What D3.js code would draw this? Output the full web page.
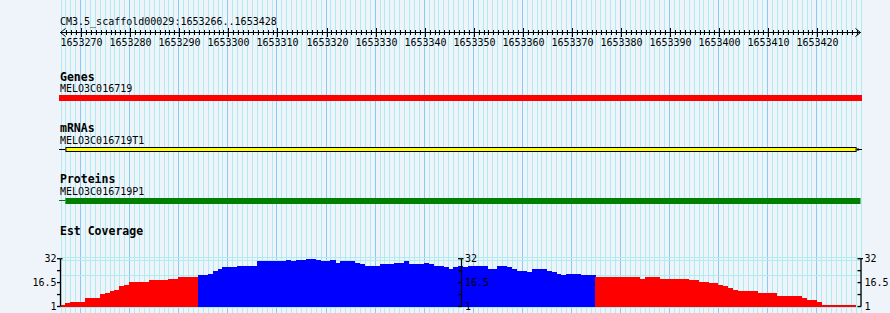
<!DOCTYPE html>
<html><head><meta charset="utf-8">
<script src="https://cdn.jsdelivr.net/npm/d3@7"></script>
<style>
html,body{margin:0;padding:0;background:#eff4fa;}
svg{display:block;}
text{font-family:"DejaVu Sans Mono",monospace;fill:#000;}
</style></head>
<body>
<svg id="c" width="890" height="313"></svg>
<script>
// ---------- data ----------
const refName = "CM3.5_scaffold00029";
const viewStart = 1653266;
const viewEnd = 1653428;            // inclusive
const rulerTickLabels = [1653270,1653280,1653290,1653300,1653310,1653320,1653330,1653340,1653350,1653360,1653370,1653380,1653390,1653400,1653410,1653420];

const trackTitles = ["Genes", "mRNAs", "Proteins", "Est Coverage"];
const geneName = "MELO3C016719";
const geneSpan = [1653100, 1653600];
const mrnaName = "MELO3C016719T1";
const mrnaUtr5 = [1653100, 1653267];
const mrnaCds = [1653267, 1653428];
const mrnaUtr3 = [1653428, 1653600];
const proteinName = "MELO3C016719P1";
const proteinThin = [1653100, 1653267];
const proteinThick = [1653267, 1653600];

// EST coverage, one value per base starting at viewStart
const coverage = [2,3,4,4,4,6.7,6.7,6.7,9,10,10.8,11.7,14.2,15,17,17,17,17,18,18,18,18,18.8,18.8,20.3,20.3,20.3,20.3,
21.5,21.5,22.2,23.7,25.2,26.7,26.7,26.7,27.4,27.4,27.4,27.4,30.6,30.6,30.6,30.6,30.6,30.6,31.2,30.6,31.2,31.2,
32,32,31.2,30.4,30.4,31,29.1,30.4,30.4,30.4,29.1,28.5,27.2,27.2,27.2,28.5,28.5,28.5,29.1,29.1,30.4,28.5,28.5,28.5,
29.1,28.5,27.2,27.2,26.6,25.4,26.7,27.2,26.7,27.2,27.2,27.2,27.2,25.4,25.4,27.2,27.2,26.3,25.4,23.9,23.9,23.2,
25.4,25.4,25.4,24.3,23.2,22.0,21.5,22,22,22,21.3,21.3,21.3,
20.3,20.3,20.3,20.3,20.3,20.3,20.3,20.3,20.3,18.8,20.3,20.3,20.3,18.8,18.8,18.8,18.8,18.8,18.8,18.1,18.1,16.8,16.8,
16.2,16.2,15.1,14.4,12.9,11.7,11,11,11,11,9.7,9.7,9.7,9.7,7.8,7.8,7.8,7.8,7.8,6.3,5.2,5.2,3.9,2,2,2,2,2,2,2,1];
const coverageMin = 1, coverageMax = 32;
const coverageTicks = [1, 8.75, 16.5, 24.25, 32];
const coverageTickLabels = ["1", "", "16.5", "", "32"];
const coveragePivot = 21;
const coverageGuides = [32.8, 31.2, 21.2, 0.6];

// ---------- drawing ----------
const svg = d3.select("#c");
const W = 890, H = 313;
const x = d3.scaleLinear().domain([viewStart, viewEnd + 1]).range([60.5, 860.5]);
const y = d3.scaleLinear().domain([coverageMin, coverageMax]).range([306.5, 258.7]);
const clampX = v => Math.max(viewStart, Math.min(viewEnd + 1, v));

svg.append("rect").attr("width", W).attr("height", H).attr("fill", "#eff4fa");

// vertical grid
const bases = d3.range(viewStart, viewEnd + 2);
svg.append("g").selectAll("line").data(bases).join("line")
  .attr("x1", d => Math.round(x(d)) + 0.5).attr("x2", d => Math.round(x(d)) + 0.5)
  .attr("y1", 0).attr("y2", H)
  .attr("stroke", d => d % 10 === 0 ? "#87cbf3" : "#aeecf0").attr("stroke-width", 1);

// coverage guides
svg.append("g").selectAll("line").data(coverageGuides).join("line")
  .attr("x1", x(viewStart)).attr("x2", x(viewEnd + 1))
  .attr("y1", d => Math.round(y(d)) + 0.5).attr("y2", d => Math.round(y(d)) + 0.5)
  .attr("stroke", "#aeecf0");

// ruler
svg.append("text").attr("x", 60).attr("y", 24.5).attr("font-size", 10).text(`${refName}:${viewStart}..${viewEnd}`);
const ry = 32.5;
const ruler = svg.append("g").attr("stroke", "#000").attr("stroke-width", 1);
ruler.append("line").attr("x1", x(viewStart)).attr("x2", x(viewEnd + 1)).attr("y1", ry).attr("y2", ry);
const rticks = d3.range(viewStart + 1, viewEnd + 1);
ruler.selectAll("line.t").data(rticks).join("line").attr("class", "t")
  .attr("x1", d => Math.round(x(d)) + 1.5).attr("x2", d => Math.round(x(d)) + 1.5)
  .attr("y1", d => d % 10 === 0 ? ry - 4.5 : ry - 2.5)
  .attr("y2", d => d % 10 === 0 ? ry + 4.5 : ry + 2.5);
ruler.append("path").attr("fill", "none")
  .attr("d", `M${x(viewStart) + 5},${ry - 4}L${x(viewStart)},${ry}L${x(viewStart) + 5},${ry + 4}`);
ruler.append("path").attr("fill", "none")
  .attr("d", `M${x(viewEnd + 1) - 5},${ry - 4}L${x(viewEnd + 1)},${ry}L${x(viewEnd + 1) - 5},${ry + 4}`);
svg.append("g").selectAll("text").data(rulerTickLabels).join("text")
  .attr("x", d => Math.round(x(d)) + 1.5).attr("y", 45.8).attr("font-size", 10)
  .attr("text-anchor", "middle").text(d => d);

// track titles
const titleY = [80.5, 131.5, 182.5, 235];
svg.append("g").selectAll("text").data(trackTitles).join("text")
  .attr("x", 60).attr("y", (d, i) => titleY[i]).attr("font-size", 11.5).attr("font-weight", "bold").text(d => d);

const fx = v => x(clampX(v));
// genes
svg.append("text").attr("x", 60).attr("y", 92).attr("font-size", 10).text(geneName);
svg.append("rect").attr("x", fx(geneSpan[0]) - 1.5).attr("y", 95)
  .attr("width", fx(geneSpan[1]) - fx(geneSpan[0]) + 3).attr("height", 6).attr("fill", "#ff0000");

// mRNAs
svg.append("text").attr("x", 60).attr("y", 144).attr("font-size", 10).text(mrnaName);
svg.append("line").attr("x1", fx(mrnaUtr5[0]) - 1.5).attr("x2", fx(mrnaUtr5[1])).attr("y1", 149.5).attr("y2", 149.5).attr("stroke", "#000");
svg.append("rect").attr("x", fx(mrnaCds[0]) + 0.5).attr("y", 147.5)
  .attr("width", fx(mrnaCds[1]) - fx(mrnaCds[0])).attr("height", 4).attr("fill", "#ffff00").attr("stroke", "#000");
svg.append("rect").attr("x", fx(mrnaUtr3[0]) + 1).attr("y", 148.5).attr("width", 2.5).attr("height", 2).attr("fill", "#000");
svg.append("line").attr("x1", fx(mrnaUtr3[0]) + 3).attr("x2", fx(mrnaUtr3[1]) + 1.5).attr("y1", 149.5).attr("y2", 149.5).attr("stroke", "#000");

// proteins
svg.append("text").attr("x", 60).attr("y", 195).attr("font-size", 10).text(proteinName);
svg.append("line").attr("x1", fx(proteinThin[0]) - 1.5).attr("x2", fx(proteinThin[1])).attr("y1", 200.5).attr("y2", 200.5).attr("stroke", "#008000");
svg.append("rect").attr("x", fx(proteinThick[0])).attr("y", 198)
  .attr("width", fx(proteinThick[1]) - fx(proteinThick[0])).attr("height", 6).attr("fill", "#008000");

// coverage bars
svg.append("g").selectAll("rect").data(coverage).join("rect")
  .attr("x", (d, i) => x(viewStart + i))
  .attr("width", (d, i) => x(viewStart + i + 1) - x(viewStart + i) + 0.3)
  .attr("y", d => y(d)).attr("height", d => y(coverageMin) - y(d))
  .attr("fill", d => d > coveragePivot ? "#0000ff" : "#ff0000")
  .attr("shape-rendering", "crispEdges");

// coverage axes
function yAxis(ax, labelSide) {
  const g = svg.append("g");
  g.append("line").attr("x1", ax).attr("x2", ax).attr("y1", y(coverageMax)).attr("y2", y(coverageMin)).attr("stroke", "#000").attr("stroke-width", 1.3);
  g.selectAll("line.t").data(coverageTicks).join("line").attr("class", "t")
    .attr("x1", ax - 3.5).attr("x2", ax + (labelSide > 0 ? 0 : 0)).attr("y1", d => y(d)).attr("y2", d => y(d))
    .attr("stroke", "#000").attr("stroke-width", 1.3);
  g.append("line").attr("x1", ax).attr("x2", ax + 2).attr("y1", y(coverageMax)).attr("y2", y(coverageMax)).attr("stroke", "#000").attr("stroke-width", 1.3);
  g.selectAll("text").data(coverageTicks).join("text")
    .attr("x", labelSide > 0 ? ax + 3.5 : ax - 4)
    .attr("y", d => y(d) + 3.6).attr("font-size", 10)
    .attr("text-anchor", labelSide > 0 ? "start" : "end")
    .text((d, i) => coverageTickLabels[i]);
}
yAxis(x(viewStart), -1);
yAxis(Math.round(x((viewStart + viewEnd + 1) / 2)) + 0.5, 1);
yAxis(x(viewEnd + 1) + 0.5, 1);
</script>
</body></html>
